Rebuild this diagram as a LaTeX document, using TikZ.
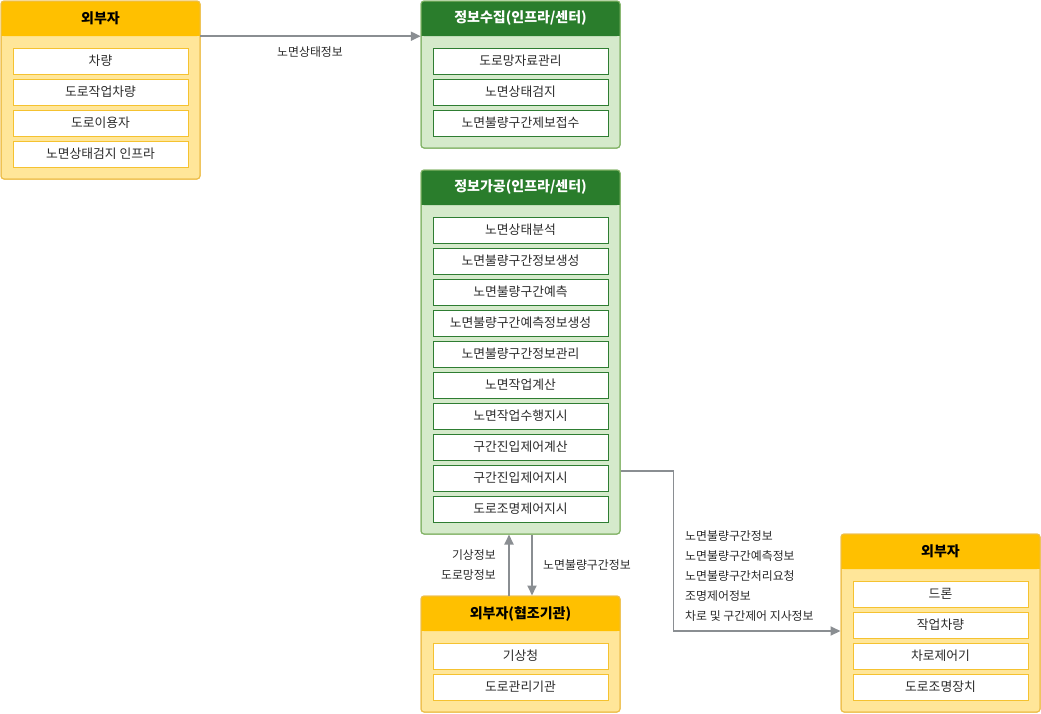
\documentclass[tikz,border=0pt]{standalone}
\usepackage{fontspec}
\setmainfont{Noto Sans CJK KR}
\usetikzlibrary{arrows.meta,calc}
\definecolor{yhead}{HTML}{FFC000}
\definecolor{ybody}{HTML}{FFE699}
\definecolor{yline}{HTML}{EDBE4A}
\definecolor{yin}{HTML}{F5C230}
\definecolor{ghead}{HTML}{2A7D2C}
\definecolor{gbody}{HTML}{D5EACB}
\definecolor{gline}{HTML}{82B366}
\definecolor{gin}{HTML}{2E7D32}
\definecolor{arr}{HTML}{8A8E92}
\definecolor{txt}{HTML}{2B2B2B}
\tikzset{
  ybox/.style={draw=yline, fill=ybody, rounded corners=3pt, line width=1pt, minimum width=199pt, inner sep=0pt},
  gbox/.style={draw=gline, fill=gbody, rounded corners=3pt, line width=1pt, minimum width=199pt, inner sep=0pt},
  yhdr/.style={minimum width=199pt, minimum height=35pt, inner sep=0pt, font=\fontsize{14}{16}\selectfont\bfseries, text=black},
  ghdr/.style={minimum width=199pt, minimum height=35pt, inner sep=0pt, font=\fontsize{14}{16}\selectfont\bfseries, text=white},
  yitem/.style={draw=yin, fill=white, line width=1pt, minimum width=175pt, minimum height=26pt, inner sep=0pt, font=\fontsize{12.8}{14}\selectfont, text=txt},
  gitem/.style={draw=gin, fill=white, line width=1pt, minimum width=175pt, minimum height=26pt, inner sep=0pt, font=\fontsize{12.8}{14}\selectfont, text=txt},
  lbl/.style={font=\fontsize{11.9}{14}\selectfont, text=txt, inner sep=0pt},
  conn/.style={draw=arr, line width=1.8pt, -{Triangle[length=10pt,width=9pt]}},
}
\begin{document}
\begin{tikzpicture}[x=1pt,y=-1pt]
\useasboundingbox (0,0) rectangle (1041,713);

% ---------- box 1: 외부자 (left) ----------
\node[ybox, minimum height=178pt] (b1) at (100.5,90) {};
\fill[yhead, rounded corners=3pt] (1,1) rectangle (200,36);
\fill[yhead] (1,20) rectangle (200,36);
\node[yhdr] (h1) at (100.5,18.5) {외부자};
\draw[yline, line width=1pt, rounded corners=3pt] (1,1) rectangle (200,179);
\node[yitem] (a1) at (100.5,61) {차량};
\node[yitem] (a2) at (100.5,92) {도로작업차량};
\node[yitem] (a3) at (100.5,123) {도로이용자};
\node[yitem] (a4) at (100.5,154) {노면상태검지 인프라};

% ---------- box 2: 정보수집 ----------
\node[gbox, minimum height=147pt] (b2) at (520.5,74.5) {};
\fill[ghead, rounded corners=3pt] (421,1) rectangle (620,36);
\fill[ghead] (421,20) rectangle (620,36);
\node[ghdr] (h2) at (520.5,18.5) {정보수집(인프라/센터)};
\draw[gline, line width=1pt, rounded corners=3pt] (421,1) rectangle (620,148);
\node[gitem] (c1) at (520.5,61) {도로망자료관리};
\node[gitem] (c2) at (520.5,92) {노면상태검지};
\node[gitem] (c3) at (520.5,123) {노면불량구간제보접수};

% ---------- box 3: 정보가공 ----------
\node[gbox, minimum height=364pt] (b3) at (520.5,352) {};
\fill[ghead, rounded corners=3pt] (421,170) rectangle (620,205);
\fill[ghead] (421,189) rectangle (620,205);
\node[ghdr] (h3) at (520.5,187.5) {정보가공(인프라/센터)};
\draw[gline, line width=1pt, rounded corners=3pt] (421,170) rectangle (620,534);
\foreach \t [count=\i from 0] in {노면상태분석,노면불량구간정보생성,노면불량구간예측,노면불량구간예측정보생성,노면불량구간정보관리,노면작업계산,노면작업수행지시,구간진입제어계산,구간진입제어지시,도로조명제어지시}
  \node[gitem] (d\i) at (520.5,{230+31*\i}) {\t};

% ---------- box 4: 외부자(협조기관) ----------
\node[ybox, minimum height=116pt] (b4) at (520.5,654) {};
\fill[yhead, rounded corners=3pt] (421,596) rectangle (620,631);
\fill[yhead] (421,615) rectangle (620,631);
\node[yhdr] (h4) at (520.5,613.5) {외부자(협조기관)};
\draw[yline, line width=1pt, rounded corners=3pt] (421,596) rectangle (620,712);
\node[yitem] (e1) at (520.5,656) {기상청};
\node[yitem] (e2) at (520.5,687) {도로관리기관};

% ---------- box 5: 외부자 (right) ----------
\node[ybox, minimum height=178pt] (b5) at (940.5,623) {};
\fill[yhead, rounded corners=3pt] (841,534) rectangle (1040,569);
\fill[yhead] (841,553) rectangle (1040,569);
\node[yhdr] (h5) at (940.5,551.5) {외부자};
\draw[yline, line width=1pt, rounded corners=3pt] (841,534) rectangle (1040,712);
\node[yitem] (f1) at (940.5,594) {드론};
\node[yitem] (f2) at (940.5,625) {작업차량};
\node[yitem] (f3) at (940.5,656) {차로제어기};
\node[yitem] (f4) at (940.5,687) {도로조명장치};

% ---------- connectors ----------
\draw[conn] (h1.south east) -- (h2.south west);
\node[lbl] (l1) at (310,52) {노면상태정보};

\draw[conn] ($(b4.north)+(-11.5,0)$) -- ($(b3.south)+(-11.5,0)$);
\node[lbl, anchor=east] (l2) at (496,555) {기상정보};
\node[lbl, anchor=east] (l3) at (496,575) {도로망정보};

\draw[conn] ($(b3.south)+(11.5,0)$) -- ($(b4.north)+(11.5,0)$);
\node[lbl, anchor=west] (l4) at (543,565) {노면불량구간정보};

\draw[conn] ($(b3.east)+(0,119)$) -- ++(53,0) |- ($(b5.west)+(0,8)$);
\node[lbl, anchor=west] (l5a) at (685,536) {노면불량구간정보};
\node[lbl, anchor=west] (l5b) at (685,556) {노면불량구간예측정보};
\node[lbl, anchor=west] (l5c) at (685,576) {노면불량구간처리요청};
\node[lbl, anchor=west] (l5d) at (685,596) {조명제어정보};
\node[lbl, anchor=west] (l5e) at (685,616) {차로 및 구간제어 지사정보};
\end{tikzpicture}
\end{document}
